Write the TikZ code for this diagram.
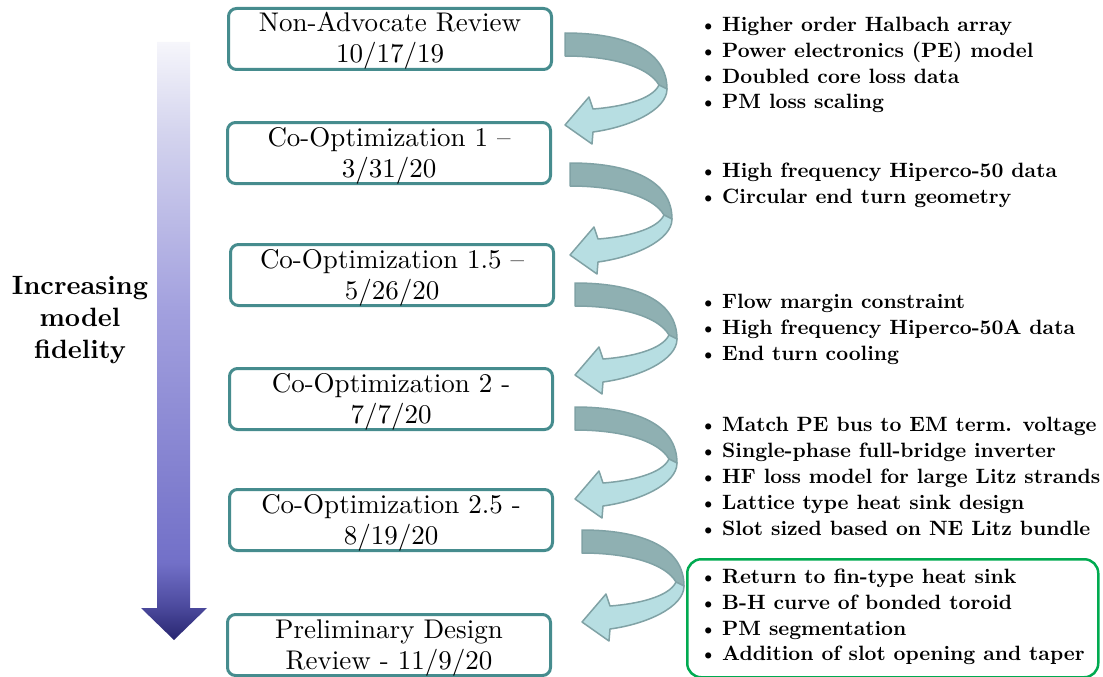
\documentclass[tikz,border=0pt]{standalone}
\usepackage{fontspec}
\setmainfont{lmroman10-regular}[Extension=.otf, BoldFont=lmroman10-bold]
\usetikzlibrary{calc}

\definecolor{boxteal}{RGB}{70,140,142}
\definecolor{turndarkfill}{RGB}{143,176,178}
\definecolor{turnlightfill}{RGB}{183,222,226}
\definecolor{turnedge}{RGB}{128,162,165}
\definecolor{designgreen}{RGB}{0,170,80}
\definecolor{shadenavy}{RGB}{40,38,112}
\definecolor{shadedeep}{RGB}{78,76,160}
\definecolor{shadeviolet}{RGB}{114,112,200}
\definecolor{shadelav}{RGB}{162,160,222}
\definecolor{shadepale}{RGB}{212,212,238}
\definecolor{shadetop}{RGB}{246,246,251}

% top-to-bottom fade of the fidelity arrow; the path covers 25bp (bottom) to 75bp (top)
\pgfdeclareverticalshading{fidelityshade}{100bp}{%
  color(0bp)=(shadenavy); color(25bp)=(shadenavy); color(28bp)=(shadedeep);
  color(31.5bp)=(shadeviolet); color(52.5bp)=(shadelav); color(67.5bp)=(shadepale);
  color(75bp)=(shadetop); color(100bp)=(shadetop)}

% bulleted line: the bullet hangs to the left of the text start
\newcommand\fitem[1]{\llap{{\fontsize{20}{20}\selectfont\textbullet}\hspace{5pt}}#1}

\begin{document}
\begin{tikzpicture}[x=1pt,y=-1pt,
  stagebox/.style={draw=boxteal, line width=3pt, rounded corners=8pt, fill=white,
    minimum width=323pt, minimum height=61pt, anchor=north west, inner sep=0pt},
  stagetext/.style={font=\fontsize{27}{31}\selectfont, inner sep=0pt, anchor=base},
  sidetext/.style={font=\bfseries\fontsize{26.5}{31}\selectfont, inner sep=0pt, anchor=base},
  itemtext/.style={font=\bfseries\fontsize{20.7}{25}\selectfont, inner sep=0pt, anchor=base west},
  turndark/.style={fill=turndarkfill, draw=turnedge, line width=1.5pt, line join=round},
  turnlight/.style={fill=turnlightfill, draw=turnedge, line width=1.5pt, line join=round},
  turnarrow/.pic={
    \filldraw[turndark] (0,0) .. controls (60,0) and (102,17) .. (102,56)
      -- (94,52) .. controls (83,33) and (45,23) .. (0,23) -- cycle;
    \filldraw[turnlight] (94,52) -- (102,56) .. controls (102,77) and (65,94) .. (28,99)
      -- (27,111) -- (0,92) -- (24,64) -- (28,76)
      .. controls (55,74) and (87,67) .. (94,52) -- cycle;
  }]
\useasboundingbox (0,0) rectangle (1103,677);

% fidelity arrow
\path[shading=fidelityshade]
  (157,42) -- (190,42) -- (190,608) -- (207,608) -- (174,640) -- (141,608) -- (157,608) -- cycle;
\node[sidetext] (side1) at (80,294) {Increasing};
\node[sidetext] (side2) at (80,326) {model};
\node[sidetext] (side3) at (80,358) {fidelity};

% review stages
\node[stagebox] (s1) at (227,7) {};
\node[stagetext] (s1a) at ($(s1.north)+(0,25)$) {Non-Advocate Review};
\node[stagetext] (s1b) at ($(s1.north)+(0,56)$) {10/17/19};

\node[stagebox] (s2) at (226,121) {};
\node[stagetext] (s2a) at ($(s2.north)+(0,25)$) {Co-Optimization 1 –};
\node[stagetext] (s2b) at ($(s2.north)+(0,56)$) {3/31/20};

\node[stagebox] (s3) at (229,243) {};
\node[stagetext] (s3a) at ($(s3.north)+(0,25)$) {Co-Optimization 1.5 –};
\node[stagetext] (s3b) at ($(s3.north)+(0,56)$) {5/26/20};

\node[stagebox] (s4) at (228,367) {};
\node[stagetext] (s4a) at ($(s4.north)+(0,25)$) {Co-Optimization 2 -};
\node[stagetext] (s4b) at ($(s4.north)+(0,56)$) {7/7/20};

\node[stagebox] (s5) at (228,488) {};
\node[stagetext] (s5a) at ($(s5.north)+(0,25)$) {Co-Optimization 2.5 -};
\node[stagetext] (s5b) at ($(s5.north)+(0,56)$) {8/19/20};

\node[stagebox] (s6) at (226,613) {};
\node[stagetext] (s6a) at ($(s6.north)+(0,25)$) {Preliminary Design};
\node[stagetext] (s6b) at ($(s6.north)+(0,56)$) {Review - 11/9/20};

% turning arrows between stages
\pic at (565,33) {turnarrow};
\pic at (570,163) {turnarrow};
\pic at (575,283) {turnarrow};
\pic at (575,407) {turnarrow};
\pic at (582,530) {turnarrow};

% model changes per stage
\node[itemtext] (c1a) at (722,31.5) {\fitem{Higher order Halbach array}};
\node[itemtext] (c1b) at (722,57.3) {\fitem{Power electronics (PE) model}};
\node[itemtext] (c1c) at (722,83) {\fitem{Doubled core loss data}};
\node[itemtext] (c1d) at (722,108.7) {\fitem{PM loss scaling}};

\node[itemtext] (c2a) at (722,177.7) {\fitem{High frequency Hiperco-50 data}};
\node[itemtext] (c2b) at (722,203.3) {\fitem{Circular end turn geometry}};

\node[itemtext] (c3a) at (722,308.3) {\fitem{Flow margin constraint}};
\node[itemtext] (c3b) at (722,334.3) {\fitem{High frequency Hiperco-50A data}};
\node[itemtext] (c3c) at (722,360.3) {\fitem{End turn cooling}};

\node[itemtext] (c4a) at (722,431.7) {\fitem{Match PE bus to EM term. voltage}};
\node[itemtext] (c4b) at (722,457.3) {\fitem{Single-phase full-bridge inverter}};
\node[itemtext] (c4c) at (722,483.3) {\fitem{HF loss model for large Litz strands}};
\node[itemtext] (c4d) at (722,509.3) {\fitem{Lattice type heat sink design}};
\node[itemtext] (c4e) at (722,535) {\fitem{Slot sized based on NE Litz bundle}};

\node[draw=designgreen, line width=2.5pt, rounded corners=14pt, minimum width=411pt,
  minimum height=118pt, anchor=north west, inner sep=0pt] (pdr) at (686,558) {};
\node[itemtext] (c5a) at (722,583.3) {\fitem{Return to fin-type heat sink}};
\node[itemtext] (c5b) at (722,609) {\fitem{B-H curve of bonded toroid}};
\node[itemtext] (c5c) at (722,635) {\fitem{PM segmentation}};
\node[itemtext] (c5d) at (722,660.7) {\fitem{Addition of slot opening and taper}};
\end{tikzpicture}
\end{document}
